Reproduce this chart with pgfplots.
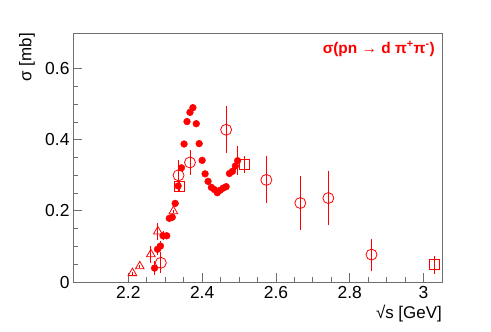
\documentclass[border=0pt]{standalone}
\usepackage{pgfplots}
\pgfplotsset{compat=1.18}
\usepackage{fontspec}
\setmainfont{Liberation Sans}
\definecolor{rootred}{RGB}{255,0,0}
\definecolor{framegray}{RGB}{110,110,110}

\begin{document}
\begin{tikzpicture}
\useasboundingbox (0,0) rectangle (491bp,332bp);
\begin{axis}[
  at={(73bp,50bp)}, anchor=south west,
  scale only axis, width=369bp, height=249bp,
  xmin=2.05, xmax=3.05, ymin=0, ymax=0.7,
  xtick={2.2,2.4,2.6,2.8,3}, ytick={0,0.2,0.4,0.6},
  minor x tick num=3, minor y tick num=3,
  xtick pos=bottom, ytick pos=left, tick align=inside,
  major tick length=9bp, minor tick length=5bp,
  axis line style={framegray, line width=0.8pt},
  tick style={framegray, line width=0.8pt},
  /pgf/number format/assume math mode=true,
  ticklabel style={font=\fontsize{17.5}{17.5}\selectfont},
  xticklabel style={yshift=-1bp},
  xlabel={\fontsize{17}{17}\selectfont √s [GeV]},
  xlabel style={at={(rel axis cs:1,-0.125)}, anchor=east, inner sep=0pt},
  ylabel={\fontsize{17}{17}\selectfont σ [mb]},
  ylabel style={at={(rel axis cs:-0.125,1)}, anchor=east, inner sep=0pt},
  error bars/error bar style={rootred, line width=0.9pt},
  error bars/error mark options={rootred, mark size=1.5bp, line width=0.9pt},
]

% filled circles
\addplot[only marks, mark=*, mark size=3.4bp, color=rootred,
  error bars/.cd, y dir=both, y explicit] coordinates {
  (2.271,0.039) +- (0,0.015)
  (2.279,0.092) +- (0,0.012)
  (2.287,0.101) +- (0,0.010)
  (2.294,0.130) +- (0,0.008)
  (2.304,0.130) +- (0,0.006)
  (2.311,0.179) +- (0,0.005)
  (2.319,0.182) +- (0,0.005)
  (2.327,0.221) +- (0,0.005)
  (2.335,0.270) +- (0,0.005)
  (2.344,0.321) +- (0,0.005)
  (2.351,0.388) +- (0,0.005)
  (2.359,0.451) +- (0,0.005)
  (2.367,0.477) +- (0,0.005)
  (2.375,0.490) +- (0,0.005)
  (2.384,0.445) +- (0,0.005)
  (2.392,0.389) +- (0,0.005)
  (2.400,0.342) +- (0,0.005)
  (2.408,0.304) +- (0,0.005)
  (2.416,0.283) +- (0,0.005)
  (2.425,0.266) +- (0,0.005)
  (2.433,0.260) +- (0,0.005)
  (2.441,0.251) +- (0,0.005)
  (2.449,0.258) +- (0,0.005)
  (2.457,0.264) +- (0,0.005)
  (2.465,0.268) +- (0,0.005)
  (2.474,0.305) +- (0,0.005)
  (2.482,0.311) +- (0,0.005)
  (2.490,0.326) +- (0,0.008)
  (2.496,0.341) +- (0,0.036)
};

% open triangles
\addplot[only marks, mark=triangle, mark size=5bp, color=rootred,
  mark options={fill=white, line width=0.8pt},
  error bars/.cd, y dir=both, y explicit] coordinates {
  (2.211,0.025) +- (0,0.000)
  (2.231,0.044) +- (0,0.000)
  (2.261,0.078) +- (0,0.020)
  (2.280,0.142) +- (0,0.020)
  (2.322,0.199) +- (0,0.000)
};

% open squares
\addplot[only marks, mark=square, mark size=5bp, color=rootred,
  mark options={fill=white, line width=0.8pt},
  error bars/.cd, y dir=both, y explicit] coordinates {
  (2.338,0.270) +- (0,0.010)
  (2.514,0.330) +- (0,0.020)
  (3.030,0.049) +- (0,0.021)
};

% open circles
\addplot[only marks, mark=o, mark size=5.5bp, color=rootred,
  mark options={fill=white, line width=0.8pt},
  error bars/.cd, y dir=both, y explicit] coordinates {
  (2.288,0.054) +- (0,0.025)
  (2.336,0.300) +- (0,0.040)
  (2.367,0.336) +- (0,0.030)
  (2.465,0.428) +- (0,0.062)
  (2.574,0.287) +- (0,0.062)
  (2.666,0.222) +- (0,0.071)
  (2.742,0.236) +- (0,0.071)
  (2.859,0.077) +- (0,0.041)
};

\node[anchor=east, text=rootred, font=\bfseries\fontsize{15.5}{15.5}\selectfont, inner sep=0pt]
  at (rel axis cs:0.981,0.936) {σ(pn \textmd{→} d π\textsuperscript{+}π\textsuperscript{-})};
\end{axis}
\end{tikzpicture}
\end{document}
